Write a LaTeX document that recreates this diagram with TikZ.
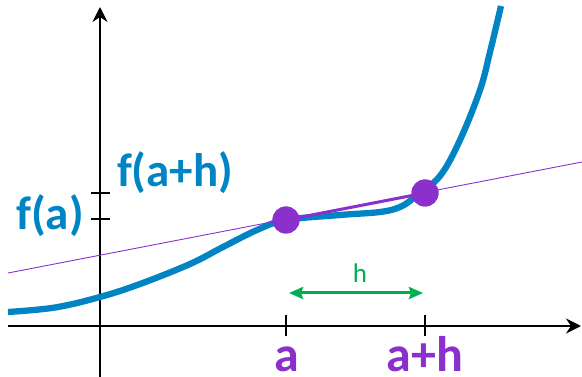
\documentclass[tikz,border=0pt]{standalone}
\usepackage{fontspec}
\setmainfont{Carlito}
\usetikzlibrary{arrows.meta}
\definecolor{cblue}{RGB}{0,132,196}
\definecolor{cpurple}{RGB}{139,48,204}
\definecolor{cgreen}{RGB}{0,176,80}
\tikzset{
  axis/.style={line width=2pt,-{Stealth[length=15pt,width=15pt,inset=5pt]}},
  tick/.style={line width=1.3pt},
  curve/.style={cblue,line width=6.3pt},
  secthin/.style={cpurple,line width=0.9pt},
  secthick/.style={cpurple,line width=3pt},
  dot/.style={circle,fill=cpurple,minimum size=27pt,inner sep=0pt},
  harrow/.style={cgreen,line width=3pt,{Stealth[length=14pt,width=12pt,inset=2pt]}-{Stealth[length=14pt,width=12pt,inset=2pt]}},
  bluelab/.style={text=cblue,font=\fontsize{47}{50}\selectfont\bfseries,inner sep=0pt,anchor=base},
  purplab/.style={text=cpurple,font=\fontsize{50}{54}\selectfont\bfseries,inner sep=0pt,anchor=base},
  greenlab/.style={text=cgreen,font=\fontsize{27}{30}\selectfont,inner sep=0pt,anchor=base}
}
\begin{document}
\begin{tikzpicture}[x=1pt,y=-1pt]
\useasboundingbox (0,0) rectangle (582,377);
% axes
\coordinate (xl) at (8,326);
\coordinate (xr) at (581,326);
\coordinate (yb) at (100,377);
\coordinate (yt) at (100,7);
\draw[axis] (xl) -- (xr);
\draw[axis] (yb) -- (yt);
% ticks
\coordinate (ta) at (286,326);
\coordinate (tb) at (425,326);
\coordinate (tfa) at (100,219);
\coordinate (tfb) at (100,193);
\draw[tick] ([yshift=-10pt]ta) -- ([yshift=11pt]ta);
\draw[tick] ([yshift=-10pt]tb) -- ([yshift=11pt]tb);
\draw[tick] ([xshift=-9pt]tfa) -- ([xshift=10pt]tfa);
\draw[tick] ([xshift=-9pt]tfb) -- ([xshift=10pt]tfb);
% curve
\draw[curve] plot[smooth,tension=0.6] coordinates {(8,312) (55,307.5) (100,297) (140,284) (190,264) (223,247) (257,230) (286,220) (340,215) (380,212) (400,207) (415,197) (440,176) (460,140) (480,90) (490,52) (501,6)};
% secant
\coordinate (sl) at (8,273);
\coordinate (sr) at (582,162);
\draw[secthin] (sl) -- (sr);
\node[dot] (pa) at (286,220) {};
\node[dot] (pb) at (425,193) {};
\draw[secthick] (pa.center) -- (pb.center);
\node[dot] at (pa) {};
\node[dot] at (pb) {};
% h arrow
\coordinate (hl) at (289,293);
\coordinate (hr) at (423,293);
\draw[harrow] (hl) -- (hr);
\node[greenlab] (hlab) at (360,283) {h};
% labels
\node[bluelab] (lfb) at (175,187) {f(a+h)};
\node[bluelab] (lfa) at (50,230) {f(a)};
\node[purplab] (la) at (287,371) {a};
\node[purplab] (lb) at (425,371) {a+h};
\end{tikzpicture}
\end{document}
